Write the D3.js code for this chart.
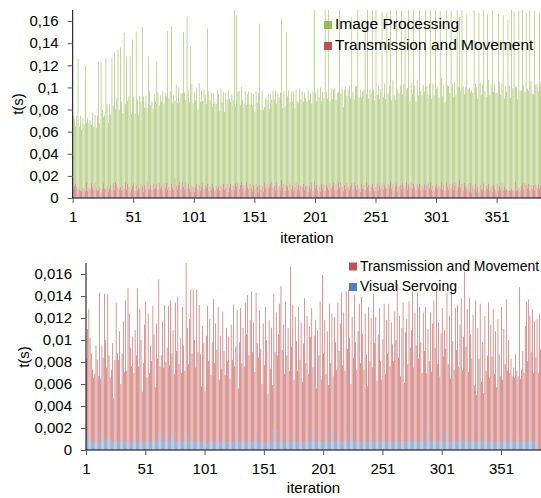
<!DOCTYPE html>
<html>
<head>
<meta charset="utf-8">
<script src="https://cdn.jsdelivr.net/npm/d3@7"></script>
<style>
  body { margin: 0; background: #fff; }
  svg { display: block; font-family: "Liberation Sans", Arial, sans-serif; }
</style>
</head>
<body>
<div id="chart"></div>
<script>
// timings in milliseconds, one value per iteration
var visualServoing = [
  0.9,1.4,0.8,0.7,1.0,0.8,0.6,0.5,0.7,0.6, 0.7,1.4,0.9,0.6,1.2,0.8,1.0,0.9,1.1,1.0,
  0.8,0.9,0.6,0.5,0.7,0.8,0.6,1.2,0.7,0.6, 0.8,0.7,0.9,0.8,0.6,0.7,0.8,0.6,0.5,0.9,
  0.7,0.6,0.7,1.4,0.8,0.6,0.5,0.7,0.9,0.6, 0.8,0.7,0.6,0.5,0.7,0.8,1.0,0.9,0.6,1.0,
  0.7,1.6,0.9,0.6,0.8,1.3,0.7,0.6,1.0,1.7, 0.8,0.6,1.1,0.7,0.9,1.5,0.6,0.7,0.8,0.6,
  1.2,0.7,0.6,0.8,1.9,1.1,0.6,0.7,0.9,0.7, 0.6,0.8,0.9,0.7,0.6,0.8,1.0,0.6,0.7,0.8,
  0.9,0.6,0.5,0.7,0.6,0.8,0.7,0.6,0.9,0.7, 0.6,0.8,0.7,0.5,0.6,1.0,0.9,0.6,0.8,0.7,
  0.6,0.7,0.5,0.6,0.8,1.1,0.6,0.9,0.7,0.6, 0.8,0.6,0.7,0.9,0.6,1.0,0.5,0.8,0.6,0.7,
  0.7,0.6,0.8,1.1,0.6,0.9,0.7,0.6,0.8,0.6, 0.7,0.5,0.6,0.8,0.7,0.6,0.9,1.8,0.7,0.6,
  0.8,1.7,0.6,0.7,0.9,0.6,0.8,1.0,0.6,0.8, 0.7,0.6,0.9,0.7,1.1,0.8,0.7,0.6,0.8,0.7,
  0.6,0.8,0.7,0.6,0.9,0.7,0.6,0.8,0.7,1.9, 0.7,0.6,0.8,0.7,1.0,0.6,0.7,0.8,0.6,0.7,
  0.8,0.6,0.7,0.9,1.6,0.7,0.6,1.7,0.8,0.6, 0.7,0.8,1.0,0.7,0.6,0.9,0.7,0.6,1.2,0.7,
  0.6,1.8,0.7,0.6,0.8,0.7,1.1,0.9,0.7,0.6, 0.8,0.7,0.6,0.8,0.9,0.7,0.6,0.8,1.0,0.6,
  1.4,0.7,0.6,0.8,0.7,0.6,0.9,0.7,1.1,0.8, 0.7,0.6,0.8,1.0,0.6,0.9,0.7,0.6,0.8,0.7,
  0.6,0.8,1.2,0.6,0.9,0.7,0.6,0.8,0.7,1.0, 0.8,0.7,0.6,0.9,0.7,1.2,0.8,0.7,0.6,0.8,
  0.7,0.6,0.8,0.7,1.0,0.9,0.7,1.8,0.6,0.8, 0.7,0.6,0.8,0.7,1.1,0.9,0.7,0.6,0.8,0.7,
  0.6,1.7,0.8,0.7,1.6,0.6,0.8,0.7,0.6,0.9, 0.7,1.0,0.8,0.7,0.6,0.8,0.7,1.2,0.9,0.7,
  0.6,0.8,0.7,0.6,0.9,1.0,0.6,0.8,0.7,0.6, 0.8,0.7,1.1,0.9,0.7,0.6,0.8,1.0,0.6,0.8,
  0.7,0.6,0.8,0.7,0.6,1.1,0.7,0.6,0.8,0.7, 0.6,0.8,1.0,0.6,0.9,0.7,0.6,1.2,0.7,0.6,
  0.8,0.7,0.6,0.9,0.7,1.1,0.8,0.7,0.6,0.8, 0.7,0.6,0.8,0.7,1.0,0.9,0.7,0.6,0.8,0.7
];

var transmission = [
  7.4,9.6,12.0,9.5,7.8,6.5,6.0,6.4,8.8,7.6, 6.0,12.9,5.6,8.9,7.2,13.4,9.0,6.6,13.1,7.6,
  5.8,6.4,9.1,4.2,7.5,12.6,8.2,7.0,10.1,5.4, 8.0,11.0,6.2,12.8,6.6,14.0,11.6,8.7,7.1,9.4,
  6.3,10.3,7.9,13.3,6.8,12.2,9.5,4.6,7.0,10.8, 12.7,5.9,11.8,6.5,8.8,7.3,12.1,9.6,5.1,10.5,
  7.6,13.9,6.7,8.0,10.9,6.2,12.5,7.4,8.3,11.4, 6.9,13.0,7.7,10.2,6.0,11.9,8.4,13.2,7.0,9.6,
  5.8,12.3,8.9,6.4,16.0,10.0,7.2,11.2,13.7,8.1, 14.0,9.2,6.6,13.9,8.3,12.4,7.7,5.2,10.6,8.9,
  4.5,9.8,12.6,7.4,11.3,6.0,9.1,13.1,7.0,10.8, 8.5,12.2,5.7,9.9,6.8,11.6,8.1,6.2,10.3,7.4,
  9.7,5.8,10.9,7.6,12.4,6.5,8.8,11.8,4.9,9.2, 12.1,7.3,10.4,6.7,12.8,9.5,13.6,7.8,11.2,13.7,
  8.2,11.0,6.3,13.2,9.1,7.5,12.0,8.6,5.2,10.9, 7.0,12.5,9.4,4.3,11.1,6.8,10.2,4.1,13.5,8.3,
  11.7,6.9,9.9,12.6,14.0,8.5,10.6,5.9,12.9,7.8, 10.4,6.6,15.8,8.7,12.1,5.6,11.4,9.3,6.4,12.3,
  7.6,10.8,5.5,9.1,12.9,7.2,11.6,6.1,10.5,8.4, 12.2,6.9,9.6,11.1,4.6,10.3,7.9,12.7,5.8,15.2,
  8.0,11.2,6.2,9.9,4.3,12.6,7.3,10.7,5.9,11.5, 9.1,6.5,12.4,8.3,10.9,13.4,7.0,11.9,6.0,13.7,
  8.6,12.8,9.5,5.4,11.3,7.7,13.0,8.9,6.6,10.2, 12.5,7.2,13.3,9.8,6.4,11.7,8.1,5.0,12.0,7.5,
  10.6,6.8,13.6,8.9,11.4,5.7,9.6,12.2,7.0,5.6, 9.4,12.7,6.1,10.8,8.2,12.4,6.9,11.0,8.8,7.4,
  12.0,9.2,13.9,7.8,11.3,6.0,10.5,12.6,5.4,9.7, 11.1,7.1,12.9,8.4,10.2,13.2,6.7,11.8,8.9,13.5,
  7.6,12.4,9.0,6.3,11.5,8.1,12.3,5.2,10.4,7.3, 11.8,6.5,10.7,12.9,8.2,13.6,7.1,11.0,5.9,9.9,
  12.3,6.8,10.1,8.5,12.7,7.2,11.4,5.8,13.8,9.0, 6.6,11.9,8.3,12.5,7.0,10.6,13.1,6.1,9.4,15.5,
  8.8,12.0,6.4,13.2,9.6,7.3,11.7,5.1,12.9,4.4, 10.3,7.6,12.2,5.3,9.1,4.6,11.4,6.2,8.0,12.6,
  5.9,10.8,7.7,12.1,6.3,9.7,5.0,11.3,7.9,6.0, 12.4,5.6,10.0,7.2,12.8,6.5,9.4,5.8,7.6,6.1,
  6.7,5.9,8.1,6.3,6.0,13.7,5.7,6.6,8.4,6.2, 10.6,12.9,7.3,13.0,11.2,8.0,12.1,6.4,10.9,7.7,
  11.9,7.0,12.4,9.1,12.5,8.3,11.6,6.9,10.2,8.6
];

var imageProcessing = [
  66,60,52,64,117,57,68,55,63,58, 113,54,66,58,62,52,67,57,61,55,
  68,116,58,118,72,60,66,118,74,62, 76,64,120,70,124,66,78,125,72,126,
  80,66,141,70,120,75,82,123,68,132, 78,70,138,82,66,84,74,144,86,70,
  84,66,120,88,72,80,68,86,78,110, 88,70,84,76,90,72,86,78,143,80,
  90,142,76,86,70,92,78,88,72,86, 80,140,88,74,155,84,78,131,92,76,
  90,78,86,72,92,80,88,74,90,82, 76,140,90,78,88,70,86,80,74,90,
  84,72,88,78,82,70,86,76,92,80, 74,86,78,175,70,155,82,88,72,86,
  80,74,90,70,84,88,72,86,78,82, 70,84,76,90,146,72,86,74,68,82,
  76,86,70,80,74,88,78,90,72,86, 80,88,145,72,84,76,138,82,90,74,
  88,76,90,72,84,80,74,92,78,86, 74,88,80,76,92,78,86,72,90,155,
  86,76,92,80,94,74,88,78,175,84, 80,172,74,90,78,84,92,76,88,82,
  170,80,90,76,86,92,78,88,94,80, 150,88,76,90,94,172,82,92,78,88,
  86,150,80,165,78,92,84,158,90,82, 162,80,94,78,90,155,84,92,80,160,
  82,92,175,80,94,86,78,160,92,84, 90,162,80,94,150,84,92,175,78,90,
  86,160,92,80,94,84,172,90,82,94, 84,165,90,80,94,156,82,92,86,175,
  86,92,80,160,94,84,90,80,172,92, 94,82,160,90,84,94,80,175,90,148,
  88,165,94,80,90,158,86,94,82,92, 84,175,90,94,80,162,92,86,94,160,
  90,80,158,94,86,92,175,84,94,88, 82,160,94,86,90,158,80,94,88,155,
  94,84,175,92,162,86,94,82,160,90, 86,165,94,82,155,90,84,172,94,86,
  82,162,90,94,84,160,92,86,94,162
];

var xTickLabels = [1, 51, 101, 151, 201, 251, 301, 351];
var topYTicks = [0, 0.02, 0.04, 0.06, 0.08, 0.1, 0.12, 0.14, 0.16];
var bottomYTicks = [0, 0.002, 0.004, 0.006, 0.008, 0.01, 0.012, 0.014, 0.016];

var colors = {vs: "#4F81BD", tm: "#C0504D", ip: "#9BBB59"};

var rows = imageProcessing.map(function(d, i) {
  return {
    iter: i + 1,
    vs: visualServoing[i] / 1000,
    tm: transmission[i] / 1000,
    ip: imageProcessing[i] / 1000
  };
});

var fmt = function(d) { return String(d).replace(".", ","); };

var svg = d3.select("#chart").append("svg")
    .attr("width", 541)
    .attr("height", 498);

function panel(opt) {
  var x = d3.scaleLinear().domain([1, 351]).range([opt.left, opt.x351]);
  var step = x(2) - x(1);
  var y = d3.scaleLinear().domain([0, opt.max]).range([opt.bottom, opt.top]);

  var g = svg.append("g");

  g.append("clipPath").attr("id", opt.id)
    .append("rect")
      .attr("x", opt.left).attr("y", opt.top)
      .attr("width", 541 - opt.left).attr("height", opt.bottom - opt.top);

  var stacked = d3.stack().keys(opt.keys)(rows);

  g.append("g")
      .attr("clip-path", "url(#" + opt.id + ")")
    .selectAll("g")
    .data(stacked)
    .enter().append("g")
      .attr("fill", function(s) { return colors[s.key]; })
    .selectAll("rect")
    .data(function(s) { return s; })
    .enter().append("rect")
      .attr("x", function(d) { return x(d.data.iter) + 0.2; })
      .attr("width", step * 0.5)
      .attr("y", function(d) { return y(d[1]); })
      .attr("height", function(d) { return Math.max(0, y(d[0]) - y(d[1])); });

  // y axis
  var yAxis = g.append("g")
      .attr("transform", "translate(" + opt.left + ",0)")
      .call(d3.axisLeft(y).tickValues(opt.yTicks).tickFormat(fmt).tickSize(5).tickPadding(9));
  yAxis.select(".domain").attr("d", "M0," + opt.top + "V" + opt.bottom).attr("stroke", "#000");
  yAxis.selectAll(".tick line").attr("stroke", "#595959");
  yAxis.selectAll("text").attr("font-size", 15).attr("fill", "#000").attr("font-family", null);

  // x axis
  var xAxis = g.append("g")
      .attr("transform", "translate(0," + opt.bottom + ")")
      .call(d3.axisBottom(x).tickValues(xTickLabels).tickFormat(d3.format("d")).tickSize(5).tickPadding(8));
  xAxis.select(".domain").attr("d", "M" + opt.left + ",0H541").attr("stroke", "#000");
  xAxis.selectAll(".tick line").attr("stroke", "#595959");
  xAxis.selectAll("text").attr("font-size", 15).attr("fill", "#000").attr("font-family", null);

  g.append("text")
      .attr("transform", "translate(" + opt.yLabelX + "," + opt.yLabelY + ") rotate(-90)")
      .attr("text-anchor", "middle")
      .attr("dy", "0.35em")
      .attr("font-size", 15)
      .text("t(s)");

  g.append("text")
      .attr("x", (opt.left + 541) / 2)
      .attr("y", opt.xLabelY)
      .attr("text-anchor", "middle")
      .attr("font-size", 15)
      .text("iteration");

  var leg = g.selectAll(".leg")
    .data(opt.legend)
    .enter().append("g")
      .attr("transform", function(d, i) { return "translate(" + opt.legX + "," + (opt.legY + i * opt.legGap) + ")"; });
  leg.append("rect")
      .attr("width", opt.legBox).attr("height", opt.legBox)
      .attr("fill", function(d) { return colors[d.key]; });
  leg.append("text")
      .attr("x", opt.legBox + 3)
      .attr("y", opt.legBox)
      .attr("font-size", opt.legFont)
      .text(function(d) { return d.label; });
}

panel({
  id: "clipTop", left: 72.7, x351: 496.6, top: 10, bottom: 198, max: 0.17,
  keys: ["vs", "tm", "ip"], yTicks: topYTicks,
  yLabelX: 18, yLabelY: 104, xLabelY: 243,
  legX: 324, legY: 21, legGap: 21, legBox: 8, legFont: 15.5,
  legend: [{key: "ip", label: "Image Processing"}, {key: "tm", label: "Transmission and Movement"}]
});

panel({
  id: "clipBottom", left: 86, x351: 501, top: 263, bottom: 450, max: 0.017,
  keys: ["vs", "tm"], yTicks: bottomYTicks,
  yLabelX: 23.5, yLabelY: 357, xLabelY: 493,
  legX: 349, legY: 262.5, legGap: 20.5, legBox: 8, legFont: 14,
  legend: [{key: "tm", label: "Transmission and Movement"}, {key: "vs", label: "Visual Servoing"}]
});
</script>
</body>
</html>
